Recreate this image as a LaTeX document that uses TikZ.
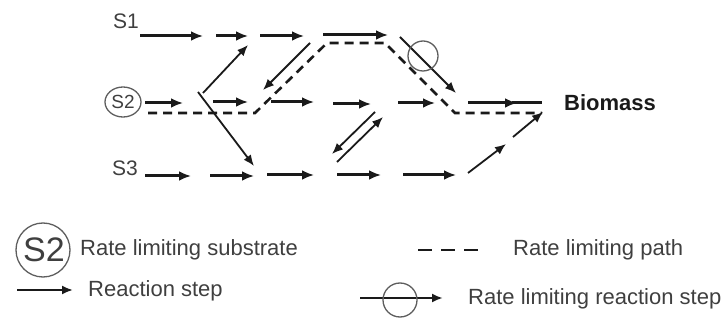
\documentclass[tikz,border=0pt]{standalone}
\usepackage{fontspec}
\setmainfont{Liberation Sans}
\usetikzlibrary{arrows.meta}
\definecolor{ink}{HTML}{1A1A1A}
\definecolor{txt}{HTML}{3F3F3F}
\definecolor{ring}{HTML}{5E5E5E}
\begin{document}
\begin{tikzpicture}[x=1pt,y=-1pt,
  rx/.style={draw=ink,line width=3pt,-{Latex[length=12pt,width=10pt]}},
  dg/.style={draw=ink,line width=1.8pt,-{Latex[length=11pt,width=9pt]}},
  rlpath/.style={draw=ink,line width=2.6pt,dash pattern=on 9pt off 6pt},
  lbl/.style={text=txt,font=\fontsize{21}{24}\selectfont,inner sep=0pt},
  leg/.style={text=txt,font=\fontsize{22}{26}\selectfont,inner sep=0pt,anchor=west},
  ringc/.style={draw=ring,line width=1.3pt}]
\useasboundingbox (0,0) rectangle (723,328);
% labels
\node[lbl] (s1) at (126,21) {S1};
\node[lbl] (s3) at (125,168) {S3};
\draw[ringc] (123,102) ellipse [x radius=18pt,y radius=15pt];
\node[lbl,font=\fontsize{19}{21}\selectfont] (s2) at (123,102) {S2};
\node[anchor=west,text=ink,font=\fontsize{22}{26}\selectfont\bfseries,inner sep=0pt] (bio) at (564,103) {Biomass};
% rate limiting dashed path
\draw[rlpath] (148,113) -- (255,113) -- (327,43) -- (385,43) -- (455,113) -- (542,113);
% S1 row
\draw[rx] (140,36) -- (203,36);
\draw[rx] (216,36) -- (248,36);
\draw[rx] (260,36) -- (304,36);
\draw[rx] (323,35) -- (388,35);
% S2 row
\draw[rx] (145,103) -- (183,103);
\draw[rx] (213,102) -- (248,102);
\draw[rx] (271,102) -- (314,102);
\draw[rx] (333,104) -- (371,104);
\draw[rx] (398,103) -- (435,103);
\draw[rx] (468,103) -- (517,103);
\draw[draw=ink,line width=3pt] (512,103) -- (542,103);
% S3 row
\draw[rx] (145,176) -- (191,176);
\draw[rx] (210,176) -- (254,176);
\draw[rx] (267,175) -- (314,175);
\draw[rx] (337,175) -- (381,175);
\draw[rx] (403,175) -- (456,175);
% diagonals
\draw[dg] (203,93) -- (248,45);
\draw[dg] (310,43) -- (263,90);
\draw[dg] (198,92) -- (254,166);
\draw[dg] (375,112) -- (332,154);
\draw[dg] (337,162) -- (383,117);
\draw[dg] (468,173) -- (506,144);
\draw[dg] (513,137) -- (543,112);
% rate limiting reaction step
\draw[dg] (400,37) -- (456,93);
\draw[ringc] (423,56) circle [radius=15pt];
% legend
\draw[ringc] (43,250) circle [radius=27pt];
\node[text=txt,font=\fontsize{34}{36}\selectfont,inner sep=0pt] (ls2) at (44,250) {S2};
\node[leg] (t1) at (80,250) {Rate limiting substrate};
\draw[dg,line width=2pt] (17,290) -- (73,290);
\node[leg] (t2) at (88,291) {Reaction step};
\draw[rlpath,dash pattern=on 14pt off 9pt] (418,250) -- (478,250);
\node[leg] (t3) at (513,250) {Rate limiting path};
\draw[dg,line width=2.2pt] (360,298) -- (443,298);
\draw[ringc] (400,300) circle [radius=17pt];
\node[leg] (t4) at (468,299) {Rate limiting reaction step};
\end{tikzpicture}
\end{document}
